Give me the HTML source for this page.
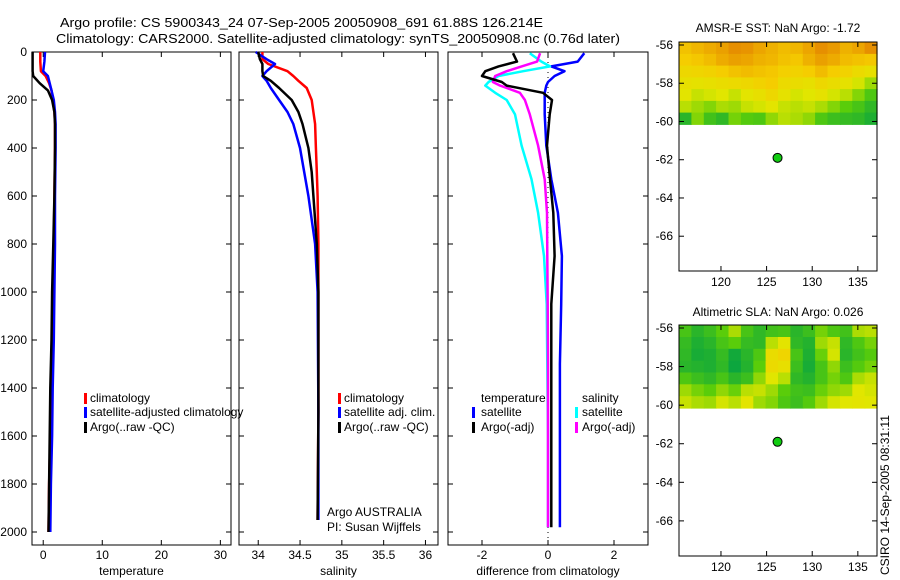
<!DOCTYPE html>
<html><head><meta charset="utf-8"><style>
body{margin:0;background:#fff;}
svg{display:block;font-family:"Liberation Sans",sans-serif;}
</style></head><body>
<svg id="fig" width="900" height="580" viewBox="0 0 900 580" xmlns="http://www.w3.org/2000/svg">
<rect width="900" height="580" fill="#fff"/>
<text x="60" y="27" font-size="13" textLength="483" lengthAdjust="spacingAndGlyphs">Argo profile: CS 5900343_24 07-Sep-2005 20050908_691 61.88S 126.214E</text>
<text x="56" y="43" font-size="13" textLength="564" lengthAdjust="spacingAndGlyphs">Climatology: CARS2000. Satellite-adjusted climatology: synTS_20050908.nc (0.76d later)</text>
<g id="plots"></g>
<text x="90" y="402" font-size="12">climatology</text>
<text x="90" y="416" font-size="12">satellite-adjusted climatology</text>
<text x="90" y="431" font-size="12">Argo(..raw -QC)</text>
<text x="344" y="402" font-size="12">climatology</text>
<text x="344" y="416" font-size="12">satellite adj. clim.</text>
<text x="344" y="431" font-size="12">Argo(..raw -QC)</text>
<text x="327" y="516" font-size="12">Argo AUSTRALIA</text>
<text x="327" y="531" font-size="12">PI: Susan Wijffels</text>
<text x="481" y="402" font-size="12">temperature</text>
<text x="481" y="416" font-size="12">satellite</text>
<text x="481" y="431" font-size="12">Argo(-adj)</text>
<text x="582" y="402" font-size="12">salinity</text>
<text x="582" y="416" font-size="12">satellite</text>
<text x="582" y="431" font-size="12">Argo(-adj)</text>
<text x="778" y="32" font-size="12" text-anchor="middle">AMSR-E SST: NaN Argo: -1.72</text>
<text x="778" y="316" font-size="12" text-anchor="middle">Altimetric SLA: NaN Argo: 0.026</text>
<text transform="translate(889,575) rotate(-90)" font-size="12">CSIRO 14-Sep-2005 08:31:11</text>
</svg>
<script>
// ---- profile data ----
const tDepth   = [0,40,80,100,130,160,200,250,300,400,600,800,1000,1200,1400,1600,1800,2000];
const tClim    = [-0.5,-0.5,-0.4,0.4,1.0,1.4,1.6,1.9,2.0,2.0,1.9,1.8,1.7,1.6,1.4,1.2,1.0,0.9];
const tSat     = [0.3,0.2,0.0,0.8,1.1,1.4,1.8,2.0,2.1,2.1,2.0,2.0,1.9,1.8,1.6,1.5,1.3,1.2];
const tArgo    = [-1.8,-1.8,-1.8,-1.7,-0.6,0.8,1.5,1.9,2.0,2.0,1.9,1.7,1.5,1.4,1.2,1.1,1.0,0.9];
const sDepth   = [0,30,50,80,100,120,150,200,250,300,400,500,600,800,1000,1500,1950];
const sClim    = [34.05,34.05,34.12,34.35,34.42,34.48,34.58,34.64,34.66,34.68,34.69,34.70,34.71,34.72,34.72,34.72,34.71];
const sSat     = [33.97,34.1,34.2,34.1,34.05,34.1,34.15,34.25,34.35,34.42,34.5,34.55,34.6,34.68,34.71,34.72,34.72];
const sArgo    = [34.0,34.02,34.05,34.05,34.06,34.15,34.25,34.4,34.48,34.53,34.6,34.64,34.66,34.7,34.72,34.72,34.71];
const dDepth   = [5,40,60,80,100,125,140,170,200,260,390,530,670,850,1050,1300,1600,1980];
const dTSat    = [1.1,0.9,0.1,0.5,0.2,0.0,-0.05,-0.1,-0.1,-0.1,-0.05,0.1,0.3,0.42,0.4,0.36,0.36,0.36];
const dTArgo   = [-1.06,-0.94,-1.5,-1.9,-2.0,-1.4,-1.25,-0.15,0.12,0.05,-0.03,0.06,0.16,0.2,0.1,0.1,0.1,0.1];
const dSSat    = [-0.55,-0.2,0.06,-0.75,-1.5,-1.8,-1.9,-1.6,-1.25,-1.0,-0.8,-0.5,-0.3,-0.12,-0.04,-0.02,0.0,0.0];
const dSArgo   = [-0.24,-0.33,-0.8,-1.25,-1.6,-1.67,-1.45,-0.85,-0.7,-0.55,-0.3,-0.1,-0.03,-0.02,-0.01,0,0,0];
const tTicks   = [0,10,20,30];
const sTicks   = [34,34.5,35,35.5,36];
const dTicks   = [-2,0,2];
const depthTicks = [0,200,400,600,800,1000,1200,1400,1600,1800,2000];
// ---- map data (rows from -56 to -60.2, cols west->east) ----
const sstGrid = [
 [0.74,0.78,0.82,0.86,0.92,0.90,0.84,0.80,0.76,0.78,0.84,0.92,0.88,0.80,0.84,0.92],
 [0.70,0.72,0.76,0.82,0.86,0.84,0.80,0.78,0.74,0.72,0.80,0.86,0.82,0.76,0.74,0.72],
 [0.62,0.64,0.66,0.70,0.74,0.76,0.74,0.72,0.68,0.66,0.70,0.76,0.70,0.66,0.60,0.56],
 [0.56,0.54,0.56,0.58,0.60,0.62,0.66,0.70,0.60,0.58,0.56,0.62,0.58,0.54,0.48,0.40],
 [0.52,0.46,0.48,0.50,0.46,0.52,0.56,0.62,0.54,0.48,0.50,0.54,0.48,0.44,0.36,0.26],
 [0.44,0.40,0.36,0.42,0.40,0.46,0.48,0.52,0.46,0.44,0.46,0.42,0.36,0.30,0.24,0.16],
 [0.14,0.36,0.22,0.16,0.34,0.28,0.26,0.38,0.44,0.42,0.38,0.26,0.20,0.18,0.16,0.10]];
const slaGrid = [
 [0.24,0.14,0.20,0.30,0.42,0.24,0.16,0.22,0.24,0.14,0.20,0.34,0.26,0.22,0.42,0.44],
 [0.18,0.10,0.14,0.24,0.30,0.18,0.16,0.44,0.52,0.16,0.12,0.40,0.46,0.16,0.26,0.34],
 [0.16,0.08,0.10,0.18,0.06,0.14,0.26,0.58,0.64,0.24,0.10,0.32,0.48,0.14,0.22,0.28],
 [0.14,0.12,0.10,0.16,0.04,0.12,0.30,0.60,0.56,0.20,0.08,0.24,0.38,0.20,0.28,0.34],
 [0.26,0.20,0.16,0.24,0.14,0.20,0.38,0.50,0.44,0.16,0.12,0.24,0.34,0.26,0.42,0.46],
 [0.40,0.34,0.30,0.38,0.32,0.44,0.46,0.40,0.30,0.22,0.20,0.32,0.38,0.40,0.50,0.48],
 [0.46,0.42,0.40,0.48,0.44,0.52,0.40,0.36,0.26,0.20,0.28,0.40,0.48,0.50,0.52,0.50]];
const argoLon = 126.2, argoLat = -61.9;
const lonTicks = [120,125,130,135];
const latTicks = [-56,-58,-60,-62,-64,-66];

const NS="http://www.w3.org/2000/svg";
const root=document.getElementById('plots');
function mk(tag,attrs,parent){const e=document.createElementNS(NS,tag);for(const k in attrs)e.setAttribute(k,attrs[k]);(parent||root).appendChild(e);return e;}
function lin(d0,d1,r0,r1){return v=>r0+(v-d0)*(r1-r0)/(d1-d0);}
const yD=lin(0,2000,52,532);

function panel(name,x0,x1,xmin,xmax,ticks,label,showY){
  const g=mk('g',{});
  
  
  const xs=lin(xmin,xmax,x0,x1);
  const fr=mk('rect',{x:x0,y:52,width:x1-x0,height:493,fill:'none',stroke:'#000','stroke-width':1},g);
  
  
  ticks.forEach(t=>{
    const x=xs(t);
    mk('line',{x1:x,y1:52,x2:x,y2:57,stroke:'#000'},g);
    mk('line',{x1:x,y1:545,x2:x,y2:540,stroke:'#000'},g);
    const tx=mk('text',{x:x,y:559,'font-size':12,'text-anchor':'middle'},g);
    
    
    tx.textContent=t;
  });
  depthTicks.forEach(d=>{
    const y=yD(d);
    mk('line',{x1:x0,y1:y,x2:x0+5,y2:y,stroke:'#000'},g);
    mk('line',{x1:x1,y1:y,x2:x1-5,y2:y,stroke:'#000'},g);
    if(showY){const tx=mk('text',{x:x0-5,y:y+4,'font-size':12,'text-anchor':'end'},g);
      
      
      tx.textContent=d;}
  });
  const xl=mk('text',{x:(x0+x1)/2,y:575,'font-size':12,'text-anchor':'middle'},g);
  
  
  xl.textContent=label;
  return xs;
}
function series(name,xs,vals,depths,color){
  const pts=vals.map((v,i)=>xs(v).toFixed(1)+','+yD(depths[i]).toFixed(1)).join(' ');
  const p=mk('polyline',{points:pts,fill:'none',stroke:color,'stroke-width':2.5,'stroke-linejoin':'round'});
  
  
}
function legBar(name,x,y,color){
  const r=mk('rect',{x:x,y:y-9,width:3,height:11,fill:color});
  
  
}

const xT=panel('temperature-panel',32,231,-1.9,31.8,tTicks,'temperature',true);
series('temp-climatology',xT,tClim,tDepth,'#f00');
series('temp-satellite',xT,tSat,tDepth,'#00f');
series('temp-argo',xT,tArgo,tDepth,'#000');
legBar('temp-legend-red',84,402,'#f00');legBar('temp-legend-blue',84,416,'#00f');legBar('temp-legend-black',84,431,'#000');

const xS=panel('salinity-panel',239,438,33.77,36.15,sTicks,'salinity',false);
series('sal-climatology',xS,sClim,sDepth,'#f00');
series('sal-satellite',xS,sSat,sDepth,'#00f');
series('sal-argo',xS,sArgo,sDepth,'#000');
legBar('sal-legend-red',338,402,'#f00');legBar('sal-legend-blue',338,416,'#00f');legBar('sal-legend-black',338,431,'#000');

const xDf=panel('difference-panel',448,648,-3.03,3.03,dTicks,'difference from climatology',false);
const z=mk('line',{x1:xDf(0),y1:52,x2:xDf(0),y2:545,stroke:'#000','stroke-dasharray':'1,4'});


series('diff-temp-satellite',xDf,dTSat,dDepth,'#00f');
series('diff-sal-satellite',xDf,dSSat,dDepth,'#0ff');
series('diff-sal-argo',xDf,dSArgo,dDepth,'#f0f');
series('diff-temp-argo',xDf,dTArgo,dDepth,'#000');
legBar('diff-legend-blue',472,416,'#00f');legBar('diff-legend-black',472,431,'#000');
legBar('diff-legend-cyan',575,416,'#0ff');legBar('diff-legend-magenta',575,431,'#f0f');

function cmap(v){ // green -> yellow-green -> yellow -> orange
  const stops=[[0,[0,160,70]],[0.3,[90,205,10]],[0.5,[225,230,0]],[0.7,[245,205,0]],[1,[225,120,0]]];
  for(let i=1;i<stops.length;i++){
    if(v<=stops[i][0]){const a=stops[i-1],b=stops[i],t=(v-a[0])/(b[0]-a[0]);
      const c=a[1].map((x,k)=>Math.round(x+(b[1][k]-x)*t));return `rgb(${c[0]},${c[1]},${c[2]})`;}
  }
  return 'rgb(225,120,0)';
}
function map(name,y0,y1,latBot,grid){
  const g=mk('g',{});
  
  
  const xs=lin(115.4,137.1,679,877), ys=lin(-56,-66,y0+3,y0+3+(y1-y0)*0.835);
  const rows=grid.length, cols=grid[0].length;
  const lat0=-55.85, latE=-60.15;
  for(let r=0;r<rows;r++)for(let c=0;c<cols;c++){
    const la=lat0+(latE-lat0)*r/rows, lb=lat0+(latE-lat0)*(r+1)/rows;
    const x=679+198*c/cols;
    const cell=mk('rect',{x:x.toFixed(1),y:ys(la).toFixed(1),width:(198/cols+0.6).toFixed(1),height:(ys(lb)-ys(la)+0.6).toFixed(1),fill:cmap(grid[r][c])},g);
    
    
  }
  const fr=mk('rect',{x:679,y:y0,width:198,height:y1-y0,fill:'none',stroke:'#000'},g);
  
  
  lonTicks.forEach(t=>{const x=xs(t);
    mk('line',{x1:x,y1:y0,x2:x,y2:y0+5,stroke:'#000'},g);
    mk('line',{x1:x,y1:y1,x2:x,y2:y1-5,stroke:'#000'},g);
    const tx=mk('text',{x:x,y:y1+15,'font-size':12,'text-anchor':'middle'},g);
    
    
    tx.textContent=t;});
  latTicks.forEach(t=>{const y=ys(t);
    mk('line',{x1:679,y1:y,x2:684,y2:y,stroke:'#000'},g);
    mk('line',{x1:877,y1:y,x2:872,y2:y,stroke:'#000'},g);
    const tx=mk('text',{x:673,y:y+4,'font-size':12,'text-anchor':'end'},g);
    
    
    tx.textContent=t;});
  const d=mk('circle',{cx:xs(argoLon),cy:ys(argoLat),r:4.5,fill:'#1c1',stroke:'#000','stroke-width':1},g);
  
  
}
map('sst-map',42,271,-60.2,sstGrid);
map('sla-map',325,556,-60.2,slaGrid);
</script>
</body></html>
